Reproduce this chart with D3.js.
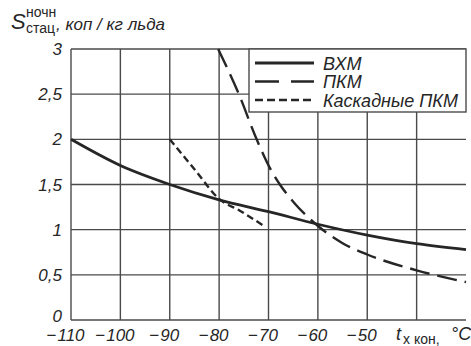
<!DOCTYPE html>
<html>
<head>
<meta charset="utf-8">
<script src="https://cdn.jsdelivr.net/npm/d3@7"></script>
<style>
  body { margin: 0; background: #fff; }
  svg { display: block; font-family: "Liberation Sans", Arial, sans-serif; }
</style>
</head>
<body>
<div id="chart"></div>
<script>
// data
const xTicks = [-110, -100, -90, -80, -70, -60, -50];
const xGrid = [-110, -100, -90, -80, -70, -60, -50, -40];
const yTicks = [0, 0.5, 1, 1.5, 2, 2.5, 3];

const vhm = [[-110, 2.0], [-100, 1.71], [-90, 1.5], [-80, 1.33], [-70, 1.2],
  [-60, 1.06], [-50, 0.94], [-40, 0.845], [-30, 0.78]];
const pkm = [[-80.2, 3.0], [-76, 2.5], [-72.4, 2.0], [-69.5, 1.66], [-67.7, 1.5],
  [-65, 1.31], [-60.4, 1.06], [-55, 0.85], [-50, 0.725], [-40, 0.55], [-30, 0.42]];
const cascade = [[-90, 2.0], [-85, 1.67], [-80, 1.34], [-75.8, 1.21], [-70.6, 1.03]];

const seriesNames = ['ВХМ', 'ПКМ', 'Каскадные ПКМ'];

// settings
const width = 471;
const height = 346;
const margin = { top: 49, right: 5, bottom: 26, left: 71 };
const ink = '#262626';
const gridColor = '#4a4a4a';

const series = [
  { name: seriesNames[0], data: vhm, dash: null, w: 2.8 },
  { name: seriesNames[1], data: pkm, dash: '20,8', w: 2.4 },
  { name: seriesNames[2], data: cascade, dash: '7,4', w: 2.4 }
];

const x = d3.scaleLinear().domain([-110, -30]).range([margin.left, width - margin.right]);
const y = d3.scaleLinear().domain([0, 3]).range([height - margin.bottom, margin.top]);

const svg = d3.select('#chart')
  .append('svg')
  .attr('width', width)
  .attr('height', height);

// grid
svg.append('g')
  .selectAll('line')
  .data(xGrid)
  .join('line')
  .attr('x1', d => x(d)).attr('x2', d => x(d))
  .attr('y1', y(0)).attr('y2', y(3))
  .attr('stroke', gridColor)
  .attr('stroke-width', 1.4);

svg.append('g')
  .selectAll('line')
  .data(yTicks)
  .join('line')
  .attr('x1', x(-110)).attr('x2', x(-30))
  .attr('y1', d => y(d)).attr('y2', d => y(d))
  .attr('stroke', gridColor)
  .attr('stroke-width', 1.4);

// curves
const line = d3.line()
  .x(d => x(d[0]))
  .y(d => y(d[1]))
  .curve(d3.curveMonotoneX);

svg.append('g')
  .selectAll('path')
  .data(series)
  .join('path')
  .attr('d', d => line(d.data))
  .attr('fill', 'none')
  .attr('stroke', ink)
  .attr('stroke-width', d => d.w)
  .attr('stroke-dasharray', d => d.dash);

// y tick labels
svg.append('g')
  .selectAll('text')
  .data(yTicks)
  .join('text')
  .attr('x', x(-110) - 9)
  .attr('y', d => y(d) + (d === 0 ? 2 : 6))
  .attr('text-anchor', 'end')
  .attr('font-size', 17)
  .attr('font-style', 'italic')
  .attr('fill', ink)
  .text(d => String(d).replace('.', ','));

// x tick labels: digits centred on the grid line, minus hangs to the left
const xl = svg.append('g');
xTicks.forEach(t => {
  const digits = xl.append('text')
    .attr('x', x(t))
    .attr('y', 341)
    .attr('text-anchor', 'middle')
    .attr('font-size', 17)
    .attr('font-style', 'italic')
    .attr('fill', ink)
    .text(Math.abs(t));
  const w = digits.node().getComputedTextLength();
  xl.append('text')
    .attr('x', x(t) - w / 2 - 1)
    .attr('y', 341)
    .attr('text-anchor', 'end')
    .attr('font-size', 17)
    .attr('fill', ink)
    .text('−');
});

// axis titles
const yTitle = svg.append('g').attr('fill', ink);
yTitle.append('text').attr('x', 11).attr('y', 29)
  .attr('font-size', 22).attr('font-style', 'italic').text('S');
yTitle.append('text').attr('x', 26).attr('y', 17)
  .attr('font-size', 14).text('ночн');
const sub = yTitle.append('text').attr('x', 26).attr('y', 33)
  .attr('font-size', 14).text('стац');
const subW = sub.node().getComputedTextLength();
yTitle.append('text').attr('x', 26 + subW + 1).attr('y', 30)
  .attr('font-size', 17).attr('font-style', 'italic').text(', коп / кг льда');

const xTitle = svg.append('g').attr('fill', ink);
xTitle.append('text').attr('x', 396).attr('y', 340)
  .attr('font-size', 18).attr('font-style', 'italic').text('t');
xTitle.append('text').attr('x', 403).attr('y', 344)
  .attr('font-size', 14).text('х кон,');
xTitle.append('text').attr('x', 451).attr('y', 340)
  .attr('font-size', 18).attr('font-style', 'italic').text('°C');

// legend
const legend = svg.append('g');
legend.append('rect')
  .attr('x', 249).attr('y', y(3))
  .attr('width', x(-30) - 249).attr('height', 63)
  .attr('fill', '#fff')
  .attr('stroke', gridColor)
  .attr('stroke-width', 1.4);

const legendDash = ['', '24,12', '8,4'];
series.forEach((s, i) => {
  const ly = 63 + i * 18.5;
  legend.append('line')
    .attr('x1', 255).attr('x2', 314)
    .attr('y1', ly).attr('y2', ly)
    .attr('stroke', ink)
    .attr('stroke-width', s.w)
    .attr('stroke-dasharray', legendDash[i] || null);
  legend.append('text')
    .attr('x', 323).attr('y', ly + 6.5)
    .attr('font-size', 18)
    .attr('font-style', 'italic')
    .attr('fill', ink)
    .text(s.name);
});
</script>
</body>
</html>
